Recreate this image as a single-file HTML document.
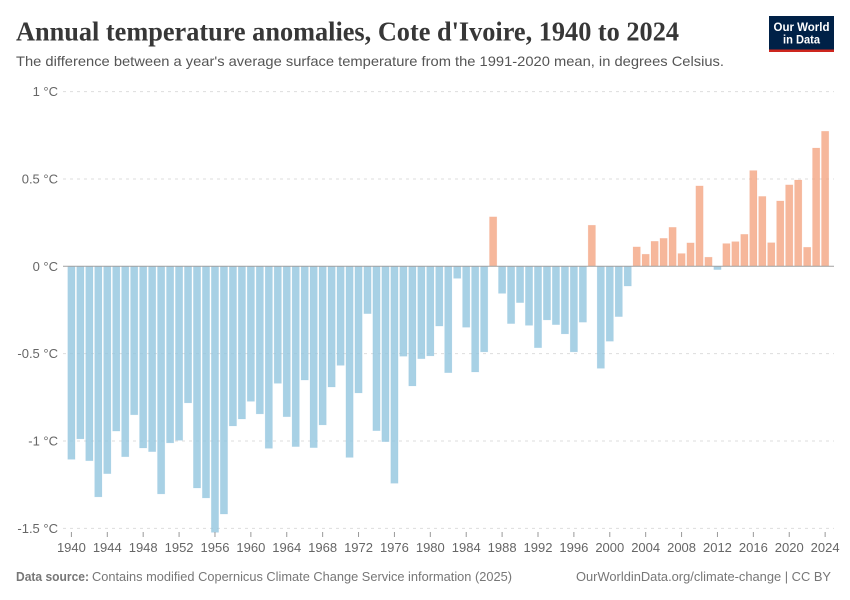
<!DOCTYPE html>
<html lang="en">
<head>
<meta charset="utf-8">
<title>Annual temperature anomalies, Cote d'Ivoire, 1940 to 2024</title>
<style>
html,body{margin:0;padding:0;background:#fff;}
svg{display:block;font-family:"Liberation Sans",sans-serif;}
</style>
</head>
<body>
<svg id="chart" width="850" height="600" viewBox="0 0 850 600" xmlns="http://www.w3.org/2000/svg">
  <rect width="850" height="600" fill="#ffffff"/>
  <text x="16" y="40.5" font-family="'Liberation Serif',serif" font-weight="700" font-size="27" fill="#373737" textLength="663" lengthAdjust="spacingAndGlyphs">Annual temperature anomalies, Cote d'Ivoire, 1940 to 2024</text>
  <text x="16" y="66" font-size="14" fill="#555555" textLength="708" lengthAdjust="spacingAndGlyphs">The difference between a year's average surface temperature from the 1991-2020 mean, in degrees Celsius.</text>
  <g>
    <rect x="769" y="16" width="65" height="36" fill="#002147"/>
    <rect x="769" y="49.5" width="65" height="2.5" fill="#ce261e"/>
    <text x="801.5" y="31" text-anchor="middle" font-size="12" font-weight="700" fill="#ffffff" textLength="56" lengthAdjust="spacingAndGlyphs">Our World</text>
    <text x="801.5" y="43.5" text-anchor="middle" font-size="12" font-weight="700" fill="#ffffff" textLength="37" lengthAdjust="spacingAndGlyphs">in Data</text>
  </g>
  <g id="grid"></g>
  <g id="ylabels"></g>
  <g id="bars"></g>
  <g id="xaxis"></g>
  <text x="16" y="581" font-size="12.5" font-weight="700" fill="#777777" textLength="73" lengthAdjust="spacingAndGlyphs">Data source:</text>
  <text x="92" y="581" font-size="12.5" fill="#777777" textLength="420" lengthAdjust="spacingAndGlyphs">Contains modified Copernicus Climate Change Service information (2025)</text>
  <text x="576" y="581" font-size="12.5" fill="#777777" textLength="255" lengthAdjust="spacingAndGlyphs">OurWorldinData.org/climate-change | CC BY</text>
</svg>
<script>
const firstYear = 1940;
const anomalies = [
  -1.105, -0.988, -1.113, -1.32, -1.187, -0.943, -1.09, -0.85, -1.04, -1.061,
  -1.303, -1.011, -0.996, -0.782, -1.269, -1.326, -1.523, -1.418, -0.914, -0.874,
  -0.773, -0.845, -1.042, -0.67, -0.861, -1.032, -0.651, -1.038, -0.908, -0.691,
  -0.567, -1.094, -0.725, -0.271, -0.941, -1.004, -1.242, -0.515, -0.685, -0.529,
  -0.513, -0.342, -0.609, -0.069, -0.349, -0.605, -0.49, 0.283, -0.155, -0.328,
  -0.208, -0.338, -0.466, -0.307, -0.334, -0.387, -0.49, -0.32, 0.235, -0.584,
  -0.429, -0.288, -0.113, 0.111, 0.069, 0.143, 0.16, 0.223, 0.073, 0.134,
  0.46, 0.052, -0.019, 0.13, 0.141, 0.183, 0.548, 0.40, 0.135, 0.374,
  0.466, 0.494, 0.109, 0.677, 0.773
];
const yTicks = [1, 0.5, 0, -0.5, -1, -1.5];
const yTickLabels = ["1 °C", "0.5 °C", "0 °C", "-0.5 °C", "-1 °C", "-1.5 °C"];
const xTicks = [1940, 1944, 1948, 1952, 1956, 1960, 1964, 1968, 1972, 1976, 1980, 1984, 1988, 1992, 1996, 2000, 2004, 2008, 2012, 2016, 2020, 2024];

const NS = "http://www.w3.org/2000/svg";
const plotLeft = 63, plotRight = 834;
function yScale(v) { return 266.3 - v * 174.7; }
function xScale(year) { return 71.4 + (year - firstYear) * 8.973; }
function make(tag, attrs, parent) {
  const el = document.createElementNS(NS, tag);
  for (const k in attrs) el.setAttribute(k, attrs[k]);
  parent.appendChild(el);
  return el;
}
const grid = document.getElementById("grid");
const ylabels = document.getElementById("ylabels");
const bars = document.getElementById("bars");
const xaxis = document.getElementById("xaxis");

yTicks.forEach(function (t, i) {
  if (t !== 0) {
    const line = make("line", { x1: plotLeft, x2: plotRight, y1: yScale(t), y2: yScale(t), stroke: "#dddddd", "stroke-dasharray": "3,4" }, grid);
    
    
  }
  const label = make("text", { x: 58, y: yScale(t) + 4.5, "text-anchor": "end", "font-size": 13, fill: "#666666" }, ylabels);
  label.textContent = yTickLabels[i];
  
  
});

anomalies.forEach(function (v, i) {
  const cx = xScale(firstYear + i);
  const y0 = yScale(0), y1 = yScale(v);
  const color = v < 0 ? "#92c5de" : "#f4a582";
  const rect = make("rect", {
    x: cx - 3.65, width: 7.3,
    y: Math.min(y0, y1), height: Math.abs(y1 - y0),
    fill: color, "fill-opacity": 0.8,
    stroke: color, "stroke-opacity": 0.25, "stroke-width": 0.6
  }, bars);
  
  
});

const zero = make("line", { x1: plotLeft, x2: plotRight, y1: yScale(0), y2: yScale(0), stroke: "#a1a1a1", "stroke-width": 1 }, xaxis);



xTicks.forEach(function (yr) {
  const tick = make("line", { x1: xScale(yr), x2: xScale(yr), y1: 532, y2: 537, stroke: "#999999" }, xaxis);
  
  
  const label = make("text", { x: xScale(yr), y: 552, "text-anchor": "middle", "font-size": 13, fill: "#666666" }, xaxis);
  label.textContent = yr;
  
  
});
</script>
</body>
</html>
